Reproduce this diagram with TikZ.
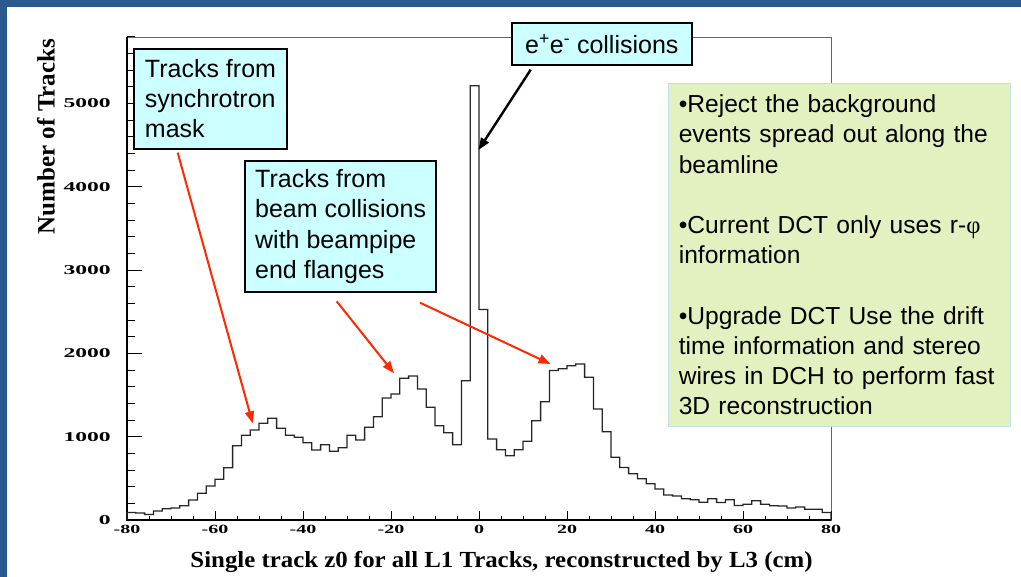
\documentclass[tikz,border=0pt]{standalone}
\usepackage{fontspec}
\usepackage{graphicx}
\setmainfont{Liberation Serif}
\setsansfont{Liberation Sans}
\newfontfamily\greekfont{Liberation Serif}
\usetikzlibrary{arrows.meta,calc}

\definecolor{slideblue}{RGB}{43,90,142}
\definecolor{calloutfill}{RGB}{204,255,255}
\definecolor{notefill}{RGB}{227,241,192}
\definecolor{noteedge}{RGB}{190,226,232}
\definecolor{pointer}{RGB}{255,40,0}

\begin{document}
\begin{tikzpicture}[x=1pt,y=-1pt,
  callout/.style={draw=black, line width=2pt, fill=calloutfill, anchor=north west,
    inner sep=0pt, align=left, font=\sffamily\fontsize{25}{30.3}\selectfont},
  notebox/.style={draw=noteedge, line width=1pt, fill=notefill, anchor=north west,
    inner xsep=10pt, inner ysep=0pt, align=left,
    font=\sffamily\fontsize{24.6}{30.2}\selectfont},
  redarrow/.style={draw=pointer, line width=2pt, -{Triangle[length=12pt,width=9pt]}},
  blackarrow/.style={draw=black, line width=2.4pt, -{Triangle[length=12pt,width=9pt]}},
  hist/.style={draw=black!85, line width=1.3pt, line join=miter},
  tickmark/.style={draw=black, line width=1pt},
  ylabelnum/.style={anchor=east, inner sep=0pt},
  xlabelnum/.style={anchor=center, inner sep=0pt}
]
\useasboundingbox (0,0) rectangle (1021,577);
\fill[white] (0,0) rectangle (1021,577);

% slide border
\fill[slideblue] (0,0) rectangle (1021,7);
\fill[slideblue] (0,0) rectangle (7,577);

% plot frame and axes
\draw[black!60, line width=0.9pt] (127,37) rectangle (831,520);
\draw[black, line width=1.2pt] (127,37) -- (127,520) -- (831,520);

% y ticks: minor every 200, major every 1000
\foreach \v in {0,200,...,5800}
  \draw[tickmark] (127,{520-\v*0.08333}) -- ++(8,0);
\foreach \v in {0,1000,...,5000}
  \draw[tickmark] (127,{520-\v*0.08333}) -- ++(15,0);
\foreach \v in {0,1000,...,5000}
  \node[ylabelnum] (yl\v) at (111,{520-\v*0.08333})
    {\scalebox{1.75}[1]{\fontsize{13.5}{14}\bfseries\selectfont \v}};

% x ticks: minor every 5, major every 20
\foreach \v in {-80,-75,...,80}
  \draw[tickmark] ({479+\v*4.4},520) -- ++(0,-4.5);
\foreach \v in {-80,-60,...,80}
  \draw[tickmark] ({479+\v*4.4},520) -- ++(0,-9);
\foreach \v [count=\k] in {-80,-60,...,80}
  \node[xlabelnum] (xl\k) at ({479+\v*4.4},529)
    {\scalebox{1.6}[1]{\fontsize{12.5}{13}\bfseries\selectfont \v}};

% axis titles
\node[rotate=90, inner sep=0pt] (ytitle) at (46,136.5)
  {\fontsize{25}{25}\bfseries\selectfont Number of Tracks};
\node[inner sep=0pt] (xtitle) at (501.5,561.5)
  {\scalebox{1.08}[1]{\fontsize{23}{23}\bfseries\selectfont Single track z0 for all L1 Tracks, reconstructed by L3 (cm)}};

% histogram, 2 cm bins from -80 to 80 (heights in picture units)
\draw[hist] (127,520)
  \foreach \h [count=\i from 0] in {7.5,7,5.5,9,11.3,12,14.3,20,26.7,34,
      40.7,52.3,74.3,84.7,90,96.7,101.7,91.7,84.7,82.7,
      77.3,70,75.3,68.7,72.3,84.7,80,92.7,103.3,122,
      126,141.7,144,131,112.7,94.3,87.3,75.3,139.3,434.3,
      210.5,81,70.3,64.2,70.3,78.8,99.2,118.3,149.5,151.2,
      154.2,156,142.7,111,88.2,62.7,52.5,46.3,41.2,36.3,
      31,25,24,21.3,20.3,17.8,21.2,17.5,20.3,14.5,
      15.7,19.2,15.8,14.2,14,12,13,10.7,10.7,7.5}
  { -- ({127+8.8*\i},{520-\h}) -- ({127+8.8*(\i+1)},{520-\h}) }
  -- (831,520);

% call-out boxes
\node[callout, minimum width=152.4pt, minimum height=100pt] (b1) at (133.3,47.7)
  {Tracks from\\synchrotron\\mask};
\node[callout, minimum width=190.7pt, minimum height=131pt] (b2) at (244.3,160)
  {Tracks from\\beam collisions\\with beampipe\\end flanges};
\node[callout, minimum width=179.7pt, minimum height=42.6pt] (b3) at (511,21.7)
  {e\textsuperscript{+}e\textsuperscript{-} collisions};

% note box
\node[notebox, text width=321.7pt, minimum height=342.4pt] (note) at (668.3,83.3)
  {\mbox{•Reject the background}\\\mbox{events spread out along the}\\beamline\\[30.2pt]%
   \mbox{•Current DCT only uses r-{\greekfont φ}}\\information\\[30.2pt]%
   \mbox{•Upgrade DCT Use the drift}\\\mbox{time information and stereo}\\%
   \mbox{wires in DCH to perform fast}\\\mbox{3D reconstruction}};

% pointers
\coordinate (tipA) at (252.7,423.3);
\coordinate (tipB) at (394,373.3);
\coordinate (tipC) at (550.5,364);
\coordinate (tipD) at (478.5,150);
\draw[redarrow] ($(b1.south west)+(44.4,3)$) -- (tipA);
\draw[redarrow] ($(b2.south west)+(92.4,8.3)$) -- (tipB);
\draw[redarrow] ($(b2.south west)+(175.7,9.7)$) -- (tipC);
\draw[blackarrow] ($(b3.south west)+(19.7,3.4)$) -- (tipD);
\end{tikzpicture}
\end{document}
